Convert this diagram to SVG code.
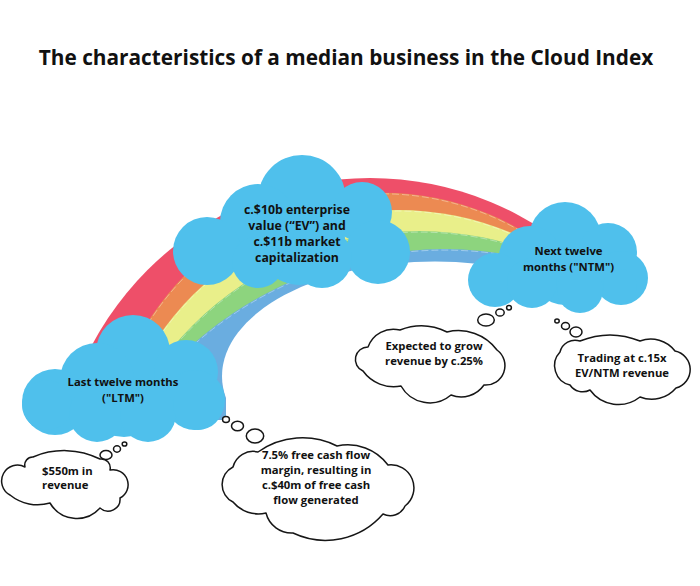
<svg xmlns="http://www.w3.org/2000/svg" width="700" height="586" viewBox="0 0 700 586">
<defs>
<style>
.t{font-family:"Open Sans","Liberation Sans",sans-serif;font-weight:700;fill:#111;text-anchor:middle}
.s{font-size:11.3px}
.ev{font-size:12.3px}
.ttl{font-size:20.8px}
.blue{fill:#4FC0EC}
.th{fill:#fff;stroke:#161616;stroke-width:1.5;stroke-linejoin:round}
.seam{fill:none;stroke:#fff;stroke-opacity:0.45;stroke-width:0.8;stroke-dasharray:7 3}
</style>
<clipPath id="rbclip"><path d="M0,0 H560 V330 L226,378 V420 H0 Z"/></clipPath>
</defs>
<rect width="700" height="586" fill="#fff"/>
<text class="t ttl" x="346" y="65">The characteristics of a median business in the Cloud Index</text>

<g id="rainbow">
<g clip-path="url(#rbclip)">
<circle cx="370" cy="493" r="315" fill="#EE4F69"/>
<circle cx="382.2" cy="469.8" r="277.1" fill="#EC8A52"/>
<circle cx="398.2" cy="500.5" r="290.5" fill="#E9EF8A"/>
<circle cx="420" cy="552.5" r="321.4" fill="#8DD47E"/>
<circle cx="444.2" cy="628.6" r="379.5" fill="#6AADE0"/>
<circle class="seam" cx="382.2" cy="469.8" r="276"/>
<circle class="seam" cx="398.2" cy="500.5" r="289.5"/>
<circle class="seam" cx="420" cy="552.5" r="320.4"/>
<circle class="seam" cx="444.2" cy="628.6" r="378.5"/>
</g>
<ellipse cx="435" cy="376" rx="213" ry="114.5" fill="#fff"/>
</g>

<g id="cloud-ev" class="blue">
<circle cx="300" cy="240" r="45"/>
<circle cx="302" cy="199" r="44"/>
<circle cx="258" cy="222" r="38"/>
<circle cx="207" cy="251" r="34"/>
<circle cx="362" cy="212" r="30"/>
<circle cx="378" cy="252" r="32"/>
<circle cx="258" cy="262" r="26"/>
<circle cx="322" cy="258" r="30"/>
</g>
<g id="cloud-ltm" class="blue">
<circle cx="124" cy="395" r="42"/>
<circle cx="133" cy="352" r="37"/>
<circle cx="97" cy="380" r="37"/>
<circle cx="55" cy="402" r="33"/>
<circle cx="186" cy="372" r="32"/>
<circle cx="195" cy="400" r="30"/>
<circle cx="47" cy="405" r="25"/>
<circle cx="97" cy="414" r="28"/>
<circle cx="148" cy="414" r="28"/>
<circle cx="198" cy="405" r="25"/>
</g>
<g id="cloud-ntm" class="blue">
<circle cx="565" cy="270" r="35"/>
<circle cx="565" cy="238" r="36"/>
<circle cx="530" cy="257" r="31"/>
<circle cx="495" cy="280" r="27"/>
<circle cx="608" cy="252" r="29"/>
<circle cx="621" cy="278" r="27"/>
<circle cx="532" cy="283" r="25"/>
<circle cx="580" cy="290" r="23"/>
<circle cx="620" cy="286" r="17"/>
</g>

<g id="connectors" class="th">
<ellipse cx="106" cy="455" rx="6" ry="4.5"/>
<ellipse cx="117" cy="449" rx="3.5" ry="3.2"/>
<ellipse cx="124.5" cy="444" rx="2.3" ry="2.1"/>
<ellipse cx="226" cy="419.5" rx="3.4" ry="3"/>
<ellipse cx="237.5" cy="426" rx="6" ry="4.8"/>
<ellipse cx="255" cy="436" rx="8.7" ry="7"/>
<ellipse cx="486" cy="320" rx="8.3" ry="6"/>
<ellipse cx="500" cy="312.5" rx="4.2" ry="3.6"/>
<ellipse cx="509" cy="307.7" rx="2.4" ry="2.2"/>
<ellipse cx="557" cy="321" rx="2.2" ry="2"/>
<ellipse cx="565.5" cy="326" rx="4" ry="3.5"/>
<ellipse cx="576" cy="332" rx="6" ry="5"/>
</g>

<g id="thought-revenue">
<path class="th" d="M 10,495 A 15 15 0 0 1 25,467 A 8 8 0 0 1 33,457 A 80 80 0 0 1 100,459 A 9 9 0 0 1 110,470 A 15 15 0 0 1 120,498 A 12 12 0 0 1 100,508 A 31 31 0 0 1 50,503 A 44 44 0 0 1 10,495 Z"/>
<text class="t s" x="42" y="475" style="text-anchor:start">$550m in</text>
<text class="t s" x="42" y="489" style="text-anchor:start">revenue</text>
</g>

<g id="thought-fcf">
<path class="th" d="M 233,502 A 19.5 19.5 0 0 1 233,467 A 20.7 20.7 0 0 1 258,452 A 77 77 0 0 1 337,446 A 50 50 0 0 1 388,465 A 23 23 0 0 1 405,506 A 16.2 16.2 0 0 1 383,514 A 76 76 0 0 1 293,533 A 26.5 26.5 0 0 1 266,513 A 33 33 0 0 1 233,502 Z"/>
<text class="t s" x="316" y="459">7.5% free cash flow</text>
<text class="t s" x="316" y="474.3">margin, resulting in</text>
<text class="t s" x="316" y="489">c.$40m of free cash</text>
<text class="t s" x="316" y="503.5">flow generated</text>
</g>

<g id="thought-growth">
<path class="th" d="M 363,371 A 12.5 12.5 0 0 1 368,347 A 27 27 0 0 1 400,330 A 58 58 0 0 1 447,332 A 48 48 0 0 1 497,350 A 19.4 19.4 0 0 1 484,385 A 27.8 27.8 0 0 1 451,395 A 32.9 32.9 0 0 1 401,386 A 37.8 37.8 0 0 1 363,371 Z"/>
<text class="t s" x="434" y="350">Expected to grow</text>
<text class="t s" x="434" y="364.5">revenue by c.25%</text>
</g>

<g id="thought-trading">
<path class="th" d="M 570,385 A 19.9 19.9 0 0 1 560,352 A 15.5 15.5 0 0 1 580,341 A 80 80 0 0 1 640,341 A 30.6 30.6 0 0 1 675,351 A 19 19 0 0 1 676,388 A 31.7 31.7 0 0 1 640,397 A 35 35 0 0 1 590,390 A 15.3 15.3 0 0 1 570,385 Z"/>
<text class="t s" x="622" y="361.7">Trading at c.15x</text>
<text class="t s" x="622" y="376.7">EV/NTM revenue</text>
</g>

<g id="node-ev">
<text class="t ev" x="297" y="214">c.$10b enterprise</text>
<text class="t ev" x="297" y="230">value (“EV”) and</text>
<text class="t ev" x="297" y="246">c.$11b market</text>
<text class="t ev" x="297" y="262">capitalization</text>
</g>
<g id="node-ltm">
<text class="t s" x="123" y="386">Last twelve months</text>
<text class="t s" x="123" y="402">("LTM")</text>
</g>
<g id="node-ntm">
<text class="t s" x="568.5" y="255">Next twelve</text>
<text class="t s" x="568.5" y="271">months ("NTM")</text>
</g>
</svg>
